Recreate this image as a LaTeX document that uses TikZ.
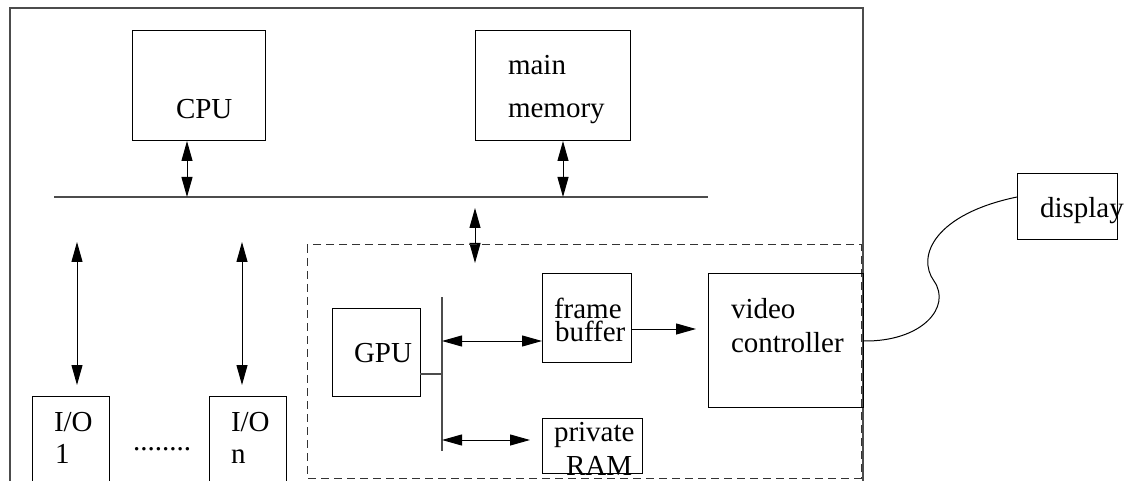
\documentclass[tikz,border=0pt]{standalone}
\usepackage{fontspec}
\setmainfont{Liberation Serif}
\usetikzlibrary{arrows.meta}
\tikzset{
  box/.style={draw=black, line width=1pt, rectangle, inner sep=0pt, outer sep=0pt, anchor=north west},
  lbl/.style={inner sep=0pt, outer sep=0pt, anchor=base west, font=\fontsize{29}{32}\selectfont},
  frameline/.style={draw=black!70, line width=1.2pt},
  biarrow/.style={line width=1pt, {Triangle[length=20pt,width=11pt]}-{Triangle[length=20pt,width=11pt]}},
  onearrow/.style={line width=1pt, -{Triangle[length=20pt,width=11pt]}},
  dashbox/.style={draw=black!80, line width=1pt, dash pattern=on 8pt off 5pt},
}
\begin{document}
\begin{tikzpicture}[x=1pt,y=-1pt]
\useasboundingbox (0,0) rectangle (1125,481);
\clip (0,0) rectangle (1125,481);
\fill[white] (0,0) rectangle (1125,481);
% outer frame
\coordinate (fBL) at (10,500);
\coordinate (fTL) at (10,8);
\coordinate (fTR) at (863,8);
\coordinate (fBR) at (863,500);
\draw[frameline] (fBL) -- (fTL) -- (fTR) -- (fBR);
% bus
\coordinate (busL) at (54,197);
\coordinate (busR) at (708,197);
\draw[frameline] (busL) -- (busR);
% top boxes
\node[box, minimum width=133pt, minimum height=110pt] (cpu) at (132,31) {};
\node[lbl] (cpuT) at (176,119) {CPU};
\node[box, minimum width=155pt, minimum height=110pt] (mem) at (475,31) {};
\node[lbl] (memT1) at (508,75) {main};
\node[lbl] (memT2) at (508,118) {memory};
\coordinate (cpuA) at (187,197);
\coordinate (memA) at (563,197);
\draw[biarrow] (cpu.south -| cpuA) -- (cpuA);
\draw[biarrow] (mem.south -| memA) -- (memA);
% bus to graphics arrow
\coordinate (gbT) at (475,208);
\coordinate (gbB) at (475,263);
\draw[biarrow] (gbT) -- (gbB);
% I/O
\coordinate (io1T) at (77,242);
\coordinate (io1B) at (77,385);
\coordinate (ionT) at (242,242);
\coordinate (ionB) at (242,385);
\draw[biarrow] (io1T) -- (io1B);
\draw[biarrow] (ionT) -- (ionB);
\node[box, minimum width=77pt, minimum height=120pt] (io1) at (32,396) {};
\node[box, minimum width=77pt, minimum height=120pt] (ion) at (209,396) {};
\node[lbl] (io1T1) at (54,431) {I/O};
\node[lbl] (io1T2) at (55,463) {1};
\node[lbl] (ionT1) at (231,431) {I/O};
\node[lbl] (ionT2) at (231,463) {n};
\node[lbl] (dots) at (133,450) {........};
% dashed graphics subsystem
\coordinate (dTL) at (307,245);
\coordinate (dBR) at (861,478);
\draw[dashbox] (dTL) rectangle (dBR);
% GPU
\node[box, minimum width=88pt, minimum height=88pt] (gpu) at (332,308) {};
\node[lbl] (gpuT) at (354,362) {GPU};
\coordinate (barT) at (442,297);
\coordinate (barB) at (442,451);
\draw[frameline] (barT) -- (barB);
\coordinate (barG) at (442,374);
\draw[frameline] (gpu.east |- barG) -- (barG);
% frame buffer
\node[box, minimum width=89pt, minimum height=88pt] (fb) at (542,274) {};
\node[lbl] (fbT1) at (554,319) {frame};
\node[lbl] (fbT2) at (555,341) {buffer};
\coordinate (barF) at (442,341);
\draw[biarrow] (barF) -- (fb.west |- barF);
% video controller
\node[box, minimum width=155pt, minimum height=133pt] (vc) at (708,274) {};
\node[lbl] (vcT1) at (731,319) {video};
\node[lbl] (vcT2) at (731,352) {controller};
\coordinate (fvA) at (696,329);
\draw[onearrow] (fb.east |- fvA) -- (fvA);
% private RAM
\node[box, minimum width=100pt, minimum height=55pt] (ram) at (542,418) {};
\node[lbl] (ramT1) at (554,441) {private};
\node[lbl] (ramT2) at (566,475) {RAM};
\coordinate (barR) at (442,440);
\coordinate (ramA) at (530,440);
\draw[biarrow] (barR) -- (ramA);
% display
\node[box, minimum width=100pt, minimum height=66pt] (disp) at (1017,174) {};
\node[lbl] (dispT) at (1040,218) {display};
\coordinate (vcOut) at (863,341);
\coordinate (wig) at (934,281);
\draw[line width=1pt] (vc.east |- vcOut) .. controls (922,342) and (952,307) .. (wig)
  .. controls (916,256) and (935,214) .. (disp.west |- 0,197);
\end{tikzpicture}
\end{document}
